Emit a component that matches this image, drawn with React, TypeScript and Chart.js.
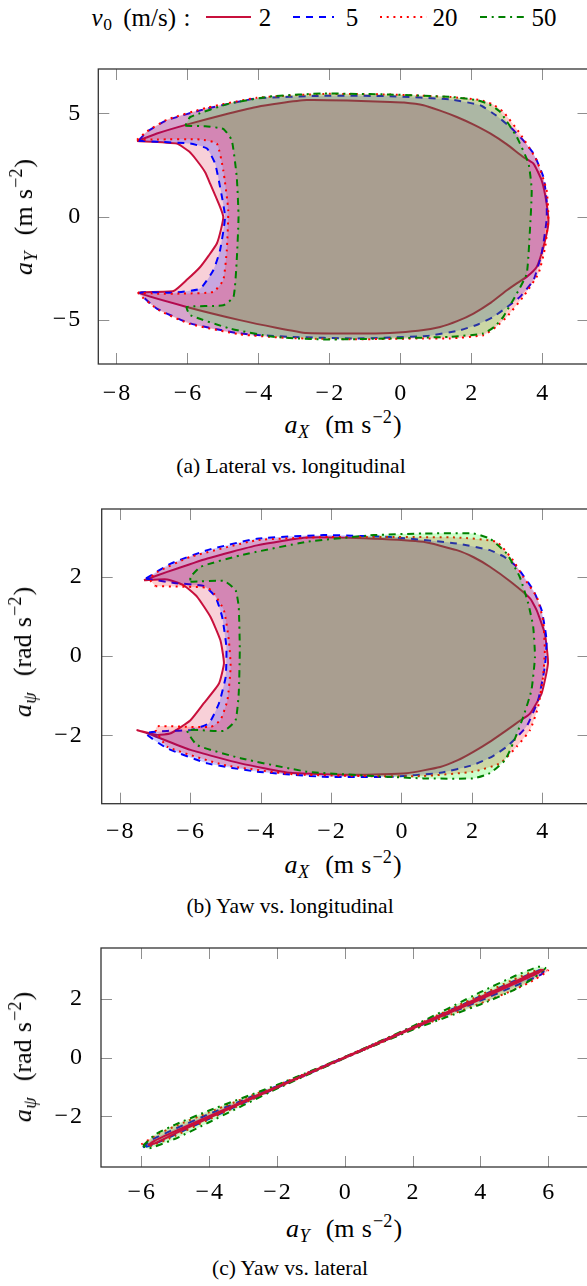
import React, { useEffect, useRef } from 'react';
import { Chart, registerables } from 'chart.js';

Chart.register(...registerables);

type Pt = [number, number];

// Legend speeds v0 (m/s)
const SPEEDS: string[] = ['2', '5', '20', '50'];

// ---------- Panel (a): lateral aY vs longitudinal aX ----------
const A_V2: Pt[] = [
  [-7.42, 3.66], [-6.30, 3.54], [-5.95, 3.15], [-5.74, 2.73], [-5.50, 2.15], [-5.36, 1.60],
  [-5.08, 0.47], [-4.99, -0.02], [-5.05, -0.60], [-5.17, -1.31], [-5.40, -1.90], [-5.64, -2.45],
  [-6.00, -3.05], [-6.39, -3.62], [-7.38, -3.70], [-6.02, -4.39], [-4.52, -5.03], [-3.50, -5.40],
  [-2.64, -5.66], [-1.20, -5.68], [-0.29, -5.65], [0.50, -5.55], [1.12, -5.36], [1.60, -5.08],
  [2.06, -4.71], [2.55, -4.18], [3.00, -3.58], [3.30, -3.22], [3.56, -2.93], [3.84, -2.45],
  [4.03, -1.48], [4.17, -0.34], [4.12, 0.63], [3.98, 1.76], [3.75, 2.57], [3.46, 2.89],
  [3.00, 3.50], [2.53, 4.03], [2.05, 4.47], [1.59, 4.83], [1.10, 5.15], [0.65, 5.40],
  [0.10, 5.53], [-0.29, 5.56], [-1.50, 5.63], [-2.64, 5.65], [-3.40, 5.50], [-4.05, 5.32],
  [-5.00, 4.93], [-5.92, 4.51], [-6.86, 4.03], [-7.42, 3.66],
];
const A_V5: Pt[] = [
  [-7.38, 3.68], [-6.77, 3.62], [-5.92, 3.54], [-5.45, 3.30], [-5.22, 2.57], [-5.08, 1.44],
  [-4.94, -0.02], [-5.08, -1.64], [-5.27, -2.61], [-5.64, -3.50], [-6.39, -3.70], [-7.33, -3.71],
  [-6.86, -4.47], [-5.92, -5.19], [-4.52, -5.68], [-3.11, -5.84], [-1.23, -5.92], [0.74, -5.80],
  [1.68, -5.52], [2.20, -5.23], [2.62, -4.87], [3.00, -4.40], [3.37, -3.90], [3.75, -3.09],
  [3.98, -1.80], [4.12, -0.18], [4.12, 0.79], [4.03, 1.92], [3.75, 3.06], [3.45, 3.72],
  [3.09, 4.35], [2.70, 4.90], [2.25, 5.40], [1.40, 5.68], [-0.29, 5.84], [-2.17, 5.86],
  [-4.05, 5.73], [-5.45, 5.24], [-6.58, 4.67], [-7.14, 4.11], [-7.38, 3.68],
];
const A_V20: Pt[] = [
  [-7.42, 3.72], [-6.86, 3.74], [-5.64, 3.74], [-5.17, 3.54], [-4.99, 2.25], [-4.85, 0.31],
  [-4.89, -1.64], [-4.99, -3.09], [-5.27, -3.66], [-6.11, -3.74], [-6.86, -3.75], [-7.38, -3.72],
  [-6.80, -4.55], [-5.92, -5.22], [-4.52, -5.72], [-3.11, -5.90], [-1.23, -5.96], [0.65, -5.92],
  [1.40, -5.92], [2.34, -5.76], [2.70, -5.35], [3.00, -4.87], [3.46, -3.90], [3.89, -2.77],
  [4.08, -1.48], [4.17, -0.02], [4.12, 1.28], [3.84, 2.73], [3.37, 4.03], [2.90, 5.08],
  [2.60, 5.45], [2.25, 5.65], [1.40, 5.80], [-0.29, 5.92], [-2.17, 5.95], [-4.05, 5.76],
  [-5.45, 5.28], [-6.58, 4.70], [-7.14, 4.13], [-7.42, 3.72],
];
const A_V50: Pt[] = [
  [-6.06, 4.40], [-5.50, 4.38], [-4.99, 4.25], [-4.75, 3.70], [-4.61, 1.92], [-4.56, -0.02],
  [-4.61, -2.12], [-4.70, -3.90], [-4.99, -4.31], [-6.02, -4.39], [-5.92, -4.79], [-4.80, -5.44],
  [-3.58, -5.84], [-2.17, -5.97], [-0.29, -5.92], [1.40, -5.84], [2.34, -5.68], [2.65, -5.35],
  [2.90, -4.87], [3.28, -3.74], [3.56, -2.77], [3.65, -0.67], [3.70, 1.28], [3.61, 2.57],
  [3.28, 3.86], [2.81, 5.08], [2.50, 5.45], [2.15, 5.65], [1.40, 5.81], [-0.29, 5.92],
  [-2.17, 5.97], [-3.58, 5.84], [-4.80, 5.49], [-5.92, 4.83], [-6.06, 4.40],
];

// ---------- Panel (b): yaw a_psi vs longitudinal aX ----------
const B_V2: Pt[] = [
  [-7.31, 1.92], [-6.65, 1.94], [-6.18, 1.79], [-5.80, 1.50], [-5.42, 0.99], [-5.14, 0.40],
  [-5.04, -0.18], [-5.18, -0.69], [-5.61, -1.19], [-5.99, -1.62], [-6.55, -1.95], [-6.93, -1.99],
  [-7.50, -1.87], [-7.21, -1.95], [-5.99, -2.37], [-4.57, -2.71], [-3.15, -2.95], [-1.26, -3.00],
  [0.15, -2.96], [1.10, -2.80], [1.60, -2.63], [2.04, -2.42], [2.55, -2.14], [2.99, -1.87],
  [3.35, -1.64], [3.65, -1.45], [3.98, -0.94], [4.16, -0.18], [4.07, 0.57], [3.84, 1.16],
  [3.65, 1.46], [3.10, 1.88], [2.51, 2.26], [2.05, 2.50], [1.57, 2.68], [0.62, 2.89],
  [-0.79, 2.97], [-2.68, 3.00], [-4.10, 2.80], [-5.51, 2.47], [-6.65, 2.13], [-7.31, 1.92],
];
const B_V5: Pt[] = [
  [-7.26, 1.96], [-6.46, 1.85], [-5.60, 1.77], [-5.28, 1.50], [-5.09, 0.99], [-4.97, 0.23],
  [-4.99, -0.52], [-5.18, -1.19], [-5.47, -1.70], [-5.99, -1.87], [-6.65, -1.89], [-7.26, -1.95],
  [-6.65, -2.33], [-5.51, -2.71], [-4.10, -2.92], [-2.21, -3.05], [-0.32, -3.05], [1.10, -2.95],
  [2.04, -2.75], [2.55, -2.55], [2.99, -2.29], [3.55, -1.78], [3.88, -1.11], [4.07, -0.27],
  [4.12, 0.40], [3.98, 1.16], [3.74, 1.67], [3.27, 2.26], [2.90, 2.52], [2.51, 2.68],
  [1.57, 2.85], [-0.32, 3.01], [-2.21, 3.06], [-4.10, 2.97], [-5.51, 2.68], [-6.55, 2.34],
  [-7.26, 1.96],
];
const B_V20: Pt[] = [
  [-6.98, 1.77], [-5.51, 1.73], [-5.32, 1.58], [-5.04, 1.16], [-4.90, 0.40], [-4.85, -0.27],
  [-4.94, -1.11], [-5.14, -1.62], [-5.42, -1.79], [-6.93, -1.77], [-6.98, -1.87], [-6.65, -2.29],
  [-5.04, -2.75], [-3.15, -2.98], [-1.26, -3.03], [0.62, -3.03], [2.04, -2.92], [2.80, -2.71],
  [3.27, -2.29], [3.65, -1.87], [3.88, -1.28], [4.02, -0.52], [4.07, 0.15], [4.02, 0.91],
  [3.84, 1.50], [3.46, 2.00], [3.17, 2.42], [2.70, 2.89], [1.57, 3.00], [-0.32, 3.01],
  [-2.21, 3.01], [-4.10, 2.93], [-5.99, 2.51], [-6.93, 2.13], [-7.15, 1.95], [-6.98, 1.77],
];
const B_V50: Pt[] = [
  [-5.99, 1.88], [-5.04, 1.90], [-4.71, 1.67], [-4.62, 1.24], [-4.59, 0.15], [-4.62, -0.94],
  [-4.71, -1.62], [-5.04, -1.89], [-6.08, -1.87], [-5.80, -2.25], [-4.57, -2.58], [-2.68, -2.92],
  [-0.79, -3.03], [0.62, -3.09], [2.04, -3.09], [2.51, -2.96], [2.94, -2.63], [3.17, -2.20],
  [3.46, -1.53], [3.69, -0.86], [3.79, -0.02], [3.74, 0.74], [3.60, 1.33], [3.36, 2.00],
  [2.99, 2.59], [2.51, 2.97], [2.04, 3.10], [0.62, 3.10], [-0.79, 3.06], [-2.68, 2.89],
  [-4.57, 2.55], [-5.70, 2.26], [-5.99, 2.00], [-5.99, 1.88],
];

// ---------- Panel (c): yaw a_psi vs lateral aY ----------
const C_V2: Pt[] = [
  [-5.80, -2.98], [-5.60, -2.82], [-5.00, -2.50], [-4.00, -1.99], [-2.00, -0.99], [0.00, 0.01],
  [2.00, 1.02], [4.00, 2.05], [5.00, 2.57], [5.60, 2.89], [5.85, 2.98], [5.70, 2.87],
  [5.00, 2.50], [4.00, 1.98], [2.00, 0.98], [0.00, -0.01], [-2.00, -1.02], [-4.00, -2.05],
  [-5.00, -2.58], [-5.60, -2.92], [-5.80, -2.98],
];
const C_V5: Pt[] = [
  [-5.95, -3.06], [-5.70, -2.80], [-5.00, -2.42], [-4.00, -1.92], [-2.00, -0.97], [0.00, 0.01],
  [2.00, 1.02], [4.00, 2.08], [5.00, 2.60], [5.70, 2.95], [5.90, 2.99], [5.80, 2.82],
  [5.00, 2.42], [4.00, 1.93], [2.00, 0.98], [0.00, -0.01], [-2.00, -1.03], [-4.00, -2.08],
  [-5.00, -2.62], [-5.70, -2.98], [-5.95, -3.06],
];
const C_V20: Pt[] = [
  [-6.00, -2.95], [-5.50, -2.60], [-5.00, -2.33], [-4.00, -1.86], [-2.00, -0.95], [0.00, 0.02],
  [2.00, 1.04], [4.00, 2.12], [5.00, 2.66], [5.70, 2.98], [6.00, 2.95], [5.50, 2.58],
  [5.00, 2.30], [4.00, 1.84], [2.00, 0.96], [0.00, -0.02], [-2.00, -1.04], [-4.00, -2.10],
  [-5.00, -2.66], [-5.70, -3.00], [-6.00, -2.95],
];
const C_V50: Pt[] = [
  [-5.95, -3.00], [-5.60, -2.62], [-5.00, -2.28], [-4.00, -1.80], [-2.00, -0.93], [0.00, 0.02],
  [2.00, 1.06], [4.00, 2.22], [5.00, 2.76], [5.70, 3.08], [5.92, 3.04], [5.60, 2.72],
  [5.00, 2.30], [4.00, 1.80], [2.00, 0.94], [0.00, -0.02], [-2.00, -1.06], [-4.00, -2.20],
  [-5.00, -2.76], [-5.80, -3.10], [-5.95, -3.00],
];

// ---------- styles ----------
const LINE_COLORS = ['#c8103c', '#0000ff', '#ff0000', '#008000'];
const FILL_COLORS = ['rgba(220,20,60,0.2)', 'rgba(0,0,255,0.2)', 'rgba(255,0,0,0.2)', 'rgba(0,255,0,0.2)'];
const DASHES: number[][] = [[], [7, 6], [2, 4.7], [7, 4.7, 2, 4.7]];
const SERIF = '"Liberation Serif", "DejaVu Serif", serif';
const TICK_FONT = 24;
const MATH_FONT = 26;

const fmt = (v: number | string) => {
  const n = Number(v);
  return n < 0 ? '\u2212\u200A' + Math.abs(n) : String(n);
};

const framePlugin = {
  id: 'frame',
  afterDatasetsDraw(chart: any) {
    const { ctx, chartArea } = chart;
    const { left, right, top, bottom } = chartArea;
    const x = chart.scales.x;
    const y = chart.scales.y;
    const L = 11;
    ctx.save();
    ctx.strokeStyle = '#8f8f8f';
    ctx.lineWidth = 1;
    ctx.beginPath();
    x.ticks.forEach((t: any) => {
      const px = Math.round(x.getPixelForValue(t.value)) + 0.5;
      ctx.moveTo(px, bottom); ctx.lineTo(px, bottom - L);
      ctx.moveTo(px, top); ctx.lineTo(px, top + L);
    });
    y.ticks.forEach((t: any) => {
      const py = Math.round(y.getPixelForValue(t.value)) + 0.5;
      ctx.moveTo(left, py); ctx.lineTo(left + L, py);
      ctx.moveTo(right, py); ctx.lineTo(right - L, py);
    });
    ctx.stroke();
    ctx.strokeStyle = '#333';
    ctx.lineWidth = 1.3;
    ctx.strokeRect(left, top, right - left, bottom - top);
    ctx.restore();
  },
};

type PanelProps = {
  top: number; height: number; padTop: number; yWidth: number; xHeight: number;
  xMin: number; xMax: number; yMin: number; yMax: number; xStep: number; yStep: number;
  xPad: number; yPad: number; series: Pt[][]; orders: number[];
};

function Panel(p: PanelProps) {
  const ref = useRef<HTMLCanvasElement>(null);
  useEffect(() => {
    const chart = new Chart(ref.current as HTMLCanvasElement, {
      type: 'line',
      data: {
        datasets: p.series.map((pts, i) => ({
          label: SPEEDS[i],
          data: pts.map(([x, y]) => ({ x, y })),
          borderColor: LINE_COLORS[i],
          backgroundColor: FILL_COLORS[i],
          borderWidth: 2,
          borderDash: DASHES[i],
          fill: 'shape',
          pointRadius: 0,
          tension: 0.15,
          order: p.orders[i],
        })),
      } as any,
      options: {
        responsive: false,
        animation: false,
        events: [],
        layout: { autoPadding: false, padding: { top: p.padTop, right: 11.5, left: 0, bottom: 0 } },
        plugins: { legend: { display: false }, tooltip: { enabled: false } },
        scales: {
          x: {
            type: 'linear', min: p.xMin, max: p.xMax,
            grid: { display: false }, border: { display: false },
            ticks: {
              stepSize: p.xStep, includeBounds: false, padding: p.xPad, maxRotation: 0, autoSkip: false,
              color: '#000', font: { family: SERIF, size: TICK_FONT }, callback: fmt,
            },
            afterFit: (s: any) => { s.height = p.xHeight; s.paddingLeft = 0; s.paddingRight = 0; },
          },
          y: {
            type: 'linear', min: p.yMin, max: p.yMax,
            grid: { display: false }, border: { display: false },
            ticks: {
              stepSize: p.yStep, includeBounds: false, padding: p.yPad, autoSkip: false,
              color: '#000', font: { family: SERIF, size: TICK_FONT }, callback: fmt,
            },
            afterFit: (s: any) => { s.width = p.yWidth; s.paddingTop = 0; s.paddingBottom = 0; },
          },
        },
      } as any,
      plugins: [framePlugin],
    });
    return () => chart.destroy();
  }, []);
  return (
    <canvas
      ref={ref}
      width={600}
      height={p.height}
      style={{ position: 'absolute', left: 0, top: p.top, width: 600, height: p.height }}
    />
  );
}

const Txt = ({ x, y, size, rotate, children }: any) => (
  <div
    style={{
      position: 'absolute', left: x, top: y, whiteSpace: 'nowrap',
      transform: `translate(-50%, -50%)${rotate ? ' rotate(-90deg)' : ''}`,
      fontFamily: SERIF, fontSize: size, lineHeight: '1', color: '#000',
    }}
  >
    {children}
  </div>
);

const Sub = ({ children }: any) => (
  <span style={{ fontSize: '0.7em', verticalAlign: '-0.25em', lineHeight: 0, marginLeft: '0.03em' }}>{children}</span>
);
const Sup = ({ children }: any) => (
  <span style={{ fontSize: '0.7em', verticalAlign: '0.55em', lineHeight: 0, marginLeft: '0.06em', marginRight: '0.06em' }}>{children}</span>
);

const AxisLabel = ({ sym, sub, unit }: any) => (
  <>
    <i>{sym}</i>
    <Sub><i>{sub}</i></Sub>
    <span style={{ marginLeft: '0.62em' }}>
      ({unit}<span style={{ marginLeft: '0.28em' }}>s</span><Sup>{'\u2212'}2</Sup>)
    </span>
  </>
);

const LegendLine = ({ x, w, i }: any) => (
  <svg style={{ position: 'absolute', left: x, top: 12 }} width={w} height={10}>
    <line x1={0} y1={5} x2={w} y2={5} stroke={LINE_COLORS[i]} strokeWidth={2}
      strokeDasharray={DASHES[i].length ? DASHES[i].join(' ') : undefined} />
  </svg>
);

const ORDER_AB = [4, 3, 2, 1];
const ORDER_C = [0, 3, 2, 1];

export default function App() {
  const legendX = [206, 293, 380, 480];
  const legendW = [45, 41, 47, 46];
  const legendTextX = [265, 352, 445, 544];
  return (
    <div style={{ position: 'absolute', left: 0, top: 0, width: 587, height: 1286, overflow: 'hidden', background: '#fff' }}>
      {/* legend */}
      <Txt x={141} y={17} size={25}>
        <i>v</i><Sub>0</Sub><span style={{ marginLeft: '0.45em' }}>(m/s)</span><span style={{ marginLeft: '0.3em' }}>:</span>
      </Txt>
      {SPEEDS.map((s, i) => (
        <React.Fragment key={s}>
          <LegendLine x={legendX[i]} w={legendW[i]} i={i} />
          <Txt x={legendTextX[i]} y={17} size={25}>{s}</Txt>
        </React.Fragment>
      ))}

      {/* panel (a) */}
      <Panel top={60} height={340} padTop={9} yWidth={98.3} xHeight={36}
        xMin={-8.51} xMax={5.3} yMin={-7.16} yMax={7.16} xStep={2} yStep={5}
        xPad={7} yPad={10} series={[A_V2, A_V5, A_V20, A_V50]} orders={ORDER_AB} />
      <Txt x={24} y={217} size={MATH_FONT} rotate><AxisLabel sym="a" sub="Y" unit="m" /></Txt>
      <Txt x={343} y={425} size={MATH_FONT}><AxisLabel sym="a" sub="X" unit="m" /></Txt>
      <Txt x={291} y={467} size={21.5}>(a) Lateral vs. longitudinal</Txt>

      {/* panel (b) */}
      <Panel top={500} height={340} padTop={9} yWidth={101.7} xHeight={36.3}
        xMin={-8.51} xMax={5.31} yMin={-3.73} yMax={3.72} xStep={2} yStep={2}
        xPad={6} yPad={12} series={[B_V2, B_V5, B_V20, B_V50]} orders={ORDER_AB} />
      <Txt x={23} y={652} size={MATH_FONT} rotate><AxisLabel sym="a" sub={'\u03c8'} unit="rad" /></Txt>
      <Txt x={343} y={865} size={MATH_FONT}><AxisLabel sym="a" sub="X" unit="m" /></Txt>
      <Txt x={290} y={907} size={21.5}>(b) Yaw vs. longitudinal</Txt>

      {/* panel (c) */}
      <Panel top={938.7} height={264} padTop={9} yWidth={101} xHeight={36}
        xMin={-7.19} xMax={7.19} yMin={-3.72} yMax={3.72} xStep={2} yStep={2}
        xPad={3.5} yPad={11} series={[C_V2, C_V5, C_V20, C_V50]} orders={ORDER_C} />
      <Txt x={23} y={1057} size={MATH_FONT} rotate><AxisLabel sym="a" sub={'\u03c8'} unit="rad" /></Txt>
      <Txt x={344} y={1229} size={MATH_FONT}><AxisLabel sym="a" sub="Y" unit="m" /></Txt>
      <Txt x={290} y={1269} size={21.5}>(c) Yaw vs. lateral</Txt>
    </div>
  );
}
